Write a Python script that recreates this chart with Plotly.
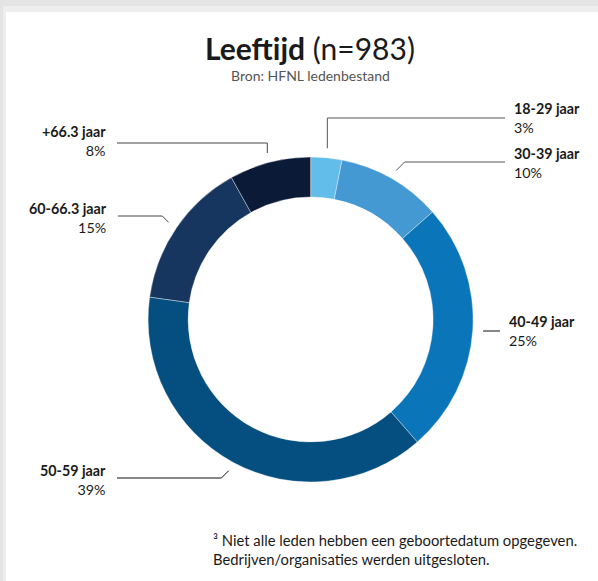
import math
import plotly.graph_objects as go

# ---- data ----
categories = ["18-29 jaar", "30-39 jaar", "40-49 jaar", "50-59 jaar", "60-66.3 jaar", "+66.3 jaar"]
values = [3.1, 10.4, 25.1, 38.6, 14.7, 8.1]
colors = ["#63BDEA", "#4499D3", "#0B75BA", "#044F80", "#17365F", "#0B1A36"]

W, H = 598, 581
FONT = "Lato"

# pie geometry in pixels
CX, CY, R = 310.6, 319.5, 162.5
HOLE = 0.754


def px(x):
    return x / W


def py(y):
    return 1 - y / H


fig = go.Figure(go.Pie(
    labels=categories,
    values=values,
    marker=dict(colors=colors, line=dict(color="rgba(255,255,255,0.6)", width=0.6)),
    hole=HOLE,
    sort=False,
    direction="clockwise",
    rotation=0,
    textinfo="none",
    hoverinfo="label+percent",
    showlegend=False,
    domain=dict(x=[px(CX - R), px(CX + R)], y=[py(CY + R), py(CY - R)]),
))

shapes = []
# background "card" with shadow on top/left
shapes.append(dict(type="rect", xref="paper", yref="paper", x0=0, x1=1, y0=0, y1=1,
                   fillcolor="#e4e4e4", line=dict(width=0), layer="below"))
shapes.append(dict(type="rect", xref="paper", yref="paper", x0=px(3), x1=1, y0=0, y1=py(6),
                   fillcolor="#eeeeee", line=dict(width=0), layer="below"))
shapes.append(dict(type="rect", xref="paper", yref="paper", x0=px(6), x1=1, y0=0, y1=py(12),
                   fillcolor="#ffffff", line=dict(width=0), layer="below"))

# leader lines: start on slice mid-angle, elbow, end (pixel layout)
total = sum(values)
cum = 0
mids = []
for v in values:
    mids.append((cum + v / 2) / total * 2 * math.pi)
    cum += v

RL = 172
layout_pts = [
    ("v", 118, 505, "left"),
    ("d", 162, 505, "left"),
    ("h", 331, 500, "left"),
    ("d", 478, 117, "right"),
    ("d", 216, 118, "right"),
    ("v", 143, 117, "right"),
]
line_colors = ["#555555", "#555555", "#111111", "#111111", "#444444", "#444444"]
label_y = [118, 163, 331, 480, 218, 141]

annotations = []
pcts = [round(v) for v in values]
for i, (kind, ey, ex, side) in enumerate(layout_pts):
    a = mids[i]
    sx = CX + RL * math.sin(a)
    sy = CY - RL * math.cos(a)
    if kind == "v":
        bx, by = sx, ey
    elif kind == "d":
        d = abs(sy - ey)
        bx = sx + (d if ex > sx else -d)
        by = ey
    else:
        sx, sy = CX + R + 10, ey
        bx, by = sx, ey
    path = f"M {px(sx)},{py(sy)} L {px(bx)},{py(by)} L {px(ex)},{py(ey)}"
    shapes.append(dict(type="path", xref="paper", yref="paper", path=path,
                       line=dict(color=line_colors[i], width=1)))
    if side == "left":
        ax, xa, al = ex + 7, "left", "left"
    else:
        ax, xa, al = ex - 9, "right", "right"
    annotations.append(dict(
        x=px(ax), y=py(label_y[i]), xref="paper", yref="paper",
        xanchor=xa, yanchor="middle", align=al, showarrow=False,
        text=f"<b>{categories[i]}</b><br>{pcts[i]}%",
        font=dict(family=FONT, size=14.3, color="#1a1a1a"),
    ))

# title and subtitle
annotations.append(dict(x=px(310), y=py(48), xref="paper", yref="paper", xanchor="center",
                        yanchor="middle", showarrow=False,
                        text="<b>Leeftijd</b> (n=983)",
                        font=dict(family=FONT, size=30, color="#1a1a1a")))
annotations.append(dict(x=px(310), y=py(75), xref="paper", yref="paper", xanchor="center",
                        yanchor="middle", showarrow=False,
                        text="Bron: HFNL ledenbestand",
                        font=dict(family=FONT, size=14, color="#555555")))
# footnote
annotations.append(dict(x=px(211), y=py(549), xref="paper", yref="paper", xanchor="left",
                        yanchor="middle", align="left", showarrow=False,
                        text="³ Niet alle leden hebben een geboortedatum opgegeven.<br>Bedrijven/organisaties werden uitgesloten.",
                        font=dict(family=FONT, size=14.8, color="#1a1a1a")))

fig.update_layout(
    width=W, height=H,
    margin=dict(l=0, r=0, t=0, b=0),
    paper_bgcolor="#ffffff",
    plot_bgcolor="#ffffff",
    shapes=shapes,
    annotations=annotations,
    font=dict(family=FONT),
)

fig.write_html("out.html", config={"displayModeBar": False},
               post_script="document.body.style.margin='0';document.body.style.overflow='hidden';")
